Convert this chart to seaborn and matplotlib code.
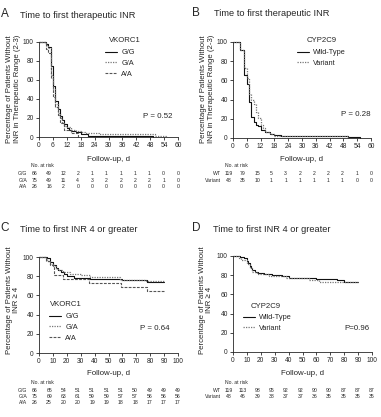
import matplotlib
matplotlib.use("Agg")
import matplotlib.pyplot as plt
import matplotlib.transforms as mtransforms
import seaborn as sns
import pandas as pd

# ---------------- data ----------------
# Panel A: time to first therapeutic INR by VKORC1
a_t_gg = [0, 3, 4, 5, 6, 7, 8, 9, 10, 11, 12, 13, 14, 16, 18, 21, 49]
a_s_gg = [100, 97, 94, 74, 53, 38, 29, 22, 18, 14, 9, 7, 6, 5, 3, 1.5, 0]
a_t_ga = [0, 3, 4, 5, 6, 7, 8, 9, 10, 11, 12, 14, 16, 18, 20, 26, 50, 55]
a_s_ga = [100, 96, 93, 65, 50, 35, 25, 20, 15, 12, 10, 7, 6, 5.3, 4, 2.7, 1.3, 0]
a_t_aa = [0, 3, 4, 5, 6, 7, 8, 9, 11, 14, 17]
a_s_aa = [100, 92, 88, 62, 42, 31, 23, 15, 7.7, 3.8, 0]
a_risk = {"G/G": [66, 49, 12, 2, 1, 1, 1, 1, 1, 0, 0],
          "G/A": [75, 49, 11, 4, 3, 2, 2, 2, 2, 1, 0],
          "A/A": [26, 16, 2, 0, 0, 0, 0, 0, 0, 0, 0]}

# Panel B: time to first therapeutic INR by CYP2C9
b_t_wt = [0, 3, 5, 6, 7, 8, 9, 10, 11, 12, 14, 16, 18, 21, 26, 50, 55]
b_s_wt = [100, 92, 66, 56, 38, 22, 17, 14, 12.6, 8, 6, 4.2, 3.4, 2.5, 1.7, 0.8, 0]
b_t_var = [0, 3, 5, 6, 7, 8, 9, 10, 11, 12, 13, 14, 16, 18, 50]
b_s_var = [100, 92, 73, 62, 46, 40, 35, 27, 21, 14, 10, 6, 4, 2, 0]
b_risk = {"WT": [119, 79, 15, 5, 3, 2, 2, 2, 2, 1, 0],
          "Variant": [48, 35, 10, 1, 1, 1, 1, 1, 1, 0, 0]}

# Panel C: time to first INR >= 4 by VKORC1
c_t_gg = [0, 6, 8, 10, 12, 14, 16, 18, 20, 25, 37, 60, 78, 90]
c_s_gg = [100, 98.5, 95, 92, 89, 86, 84, 82, 80, 78, 77, 76, 74, 74]
c_t_ga = [0, 4, 6, 8, 10, 12, 14, 17, 22, 30, 37, 58, 77, 90]
c_s_ga = [100, 99, 96, 93, 91, 88, 86, 84, 82, 81, 79, 76, 75, 75]
c_t_aa = [0, 5, 8, 11, 17, 36, 59, 78, 90]
c_s_aa = [100, 96, 92, 81, 77, 73, 69, 65, 65]
c_risk = {"G/G": [66, 65, 54, 51, 51, 51, 51, 50, 49, 49, 49],
          "G/A": [75, 69, 63, 61, 59, 59, 57, 57, 56, 56, 56],
          "A/A": [26, 25, 20, 20, 19, 19, 18, 18, 17, 17, 17]}

# Panel D: time to first INR >= 4 by CYP2C9
d_t_wt = [0, 5, 8, 10, 11, 12, 13, 14, 16, 18, 22, 28, 35, 40, 60, 75, 80, 90]
d_s_wt = [100, 99, 98, 95, 93, 90, 87, 85, 83, 82, 81, 80, 79, 77, 76, 75, 73, 73]
d_t_var = [0, 4, 6, 10, 12, 14, 17, 26, 38, 55, 62, 90]
d_s_var = [100, 98, 96, 92, 87, 83, 81, 79, 77, 75, 73, 73]
d_risk = {"WT": [119, 113, 98, 95, 92, 92, 90, 90, 87, 87, 87],
          "Variant": [48, 46, 39, 38, 37, 37, 36, 35, 35, 35, 35]}

# ---------------- style ----------------
sns.set_style("ticks")
plt.rcParams["font.family"] = ["Liberation Sans", "DejaVu Sans"]
plt.rcParams["axes.linewidth"] = 0.6
plt.rcParams["xtick.major.width"] = 0.6
plt.rcParams["ytick.major.width"] = 0.6
plt.rcParams["xtick.major.size"] = 2.2
plt.rcParams["ytick.major.size"] = 2.2
plt.rcParams["xtick.major.pad"] = 1.5
plt.rcParams["ytick.major.pad"] = 1.5

W, H = 381, 417
fig = plt.figure(figsize=(W / 100, H / 100), dpi=100)


def ax_at(x0, y0, x1, y1):
    return fig.add_axes([x0 / W, 1 - y1 / H, (x1 - x0) / W, (y1 - y0) / H])


def ftext(px, py, s, **kw):
    fig.text(px / W, 1 - py / H, s, **kw)


STY = {
    "solid": dict(color="#111111", linestyle="-", linewidth=0.8),
    "dotted": dict(color="#777777", linestyle=(0, (1, 1)), linewidth=0.9),
    "dashed": dict(color="#555555", linestyle=(0, (2.5, 1.2)), linewidth=0.8),
}


def draw(ax, curves, xmax, xstep):
    for t, s, lab, sty in curves:
        df = pd.DataFrame({"t": t, "s": s})
        sns.lineplot(data=df, x="t", y="s", ax=ax, drawstyle="steps-post",
                     estimator=None, label=lab, clip_on=False, **STY[sty])
    ax.set_xlim(0, xmax)
    ax.set_ylim(0, 100)
    ax.set_xticks(range(0, xmax + 1, xstep))
    ax.set_yticks(range(0, 101, 20))
    ax.tick_params(labelsize=4.8)
    sns.despine(ax=ax)
    ax.set_xlabel("")
    ax.set_ylabel("")


def table(ax, risk, y_head, y_rows):
    tr = mtransforms.blended_transform_factory(ax.transAxes, fig.transFigure)
    ax.text(-0.055, 1 - y_head / H, "No. at risk", transform=tr, fontsize=3.6,
            ha="left", va="center")
    n = len(next(iter(risk.values())))
    xs = [-0.03 + i * 1.03 / (n - 1) for i in range(n)]
    for (lab, vals), yr in zip(risk.items(), y_rows):
        ax.text(-0.085, 1 - yr / H, lab, transform=tr, fontsize=3.7,
                ha="right", va="center")
        for x, v in zip(xs, vals):
            ax.text(x, 1 - yr / H, str(v), transform=tr, fontsize=3.7,
                    ha="center", va="center")


def legend(ax, title, title_px, x, y):
    ax.legend(loc="upper left", bbox_to_anchor=(x, y),
              frameon=False, fontsize=5.3,
              handlelength=1.6, handletextpad=0.6, labelspacing=0.5,
              borderaxespad=0, borderpad=0)
    ftext(title_px[0], title_px[1], title, fontsize=5.6, ha="left", va="center")


# ---------- Panel A ----------
axA = ax_at(39, 41.5, 178, 137)
draw(axA, [(a_t_gg, a_s_gg, "G/G", "solid"),
           (a_t_ga, a_s_ga, "G/A", "dotted"),
           (a_t_aa, a_s_aa, "A/A", "dashed")], 60, 6)
legend(axA, "VKORC1", (109, 41), 0.475, 0.921)
axA.text(45, 21, "P = 0.52", fontsize=5.7, ha="left", va="center")
table(axA, a_risk, 165.5, [173.5, 180, 186.5])

# ---------- Panel B ----------
axB = ax_at(233, 42, 371, 138)
draw(axB, [(b_t_wt, b_s_wt, "Wild-Type", "solid"),
           (b_t_var, b_s_var, "Variant", "dotted")], 60, 6)
legend(axB, "CYP2C9", (307, 41), 0.464, 0.927)
axB.text(47, 24, "P = 0.28", fontsize=5.7, ha="left", va="center")
table(axB, b_risk, 165.5, [173.5, 180])

# ---------- Panel C ----------
axC = ax_at(39, 257, 178, 353)
draw(axC, [(c_t_gg, c_s_gg, "G/G", "solid"),
           (c_t_ga, c_s_ga, "G/A", "dotted"),
           (c_t_aa, c_s_aa, "A/A", "dashed")], 100, 10)
legend(axC, "VKORC1", (50, 305), 0.072, 0.417)
axC.text(72.5, 25.5, "P = 0.64", fontsize=5.7, ha="left", va="center")
table(axC, c_risk, 383, [390, 396.5, 403])

# ---------- Panel D ----------
axD = ax_at(233, 256, 372, 352)
draw(axD, [(d_t_wt, d_s_wt, "Wild-Type", "solid"),
           (d_t_var, d_s_var, "Variant", "dotted")], 100, 10)
legend(axD, "CYP2C9", (251, 306), 0.072, 0.396)
axD.text(80, 24, "P=0.96", fontsize=5.7, ha="left", va="center")
table(axD, d_risk, 383, [390, 396.5])

# ---------- titles, letters, axis labels ----------
for lx, tx, py, letter, title in [
        (0.5, 20, 15, "A", "Time to first therapeutic INR"),
        (192, 214, 14, "B", "Time to first therapeutic INR"),
        (0.5, 20, 229, "C", "Time to first INR 4 or greater"),
        (192, 213, 229, "D", "Time to first INR 4 or greater")]:
    ftext(lx, py - 1, letter, fontsize=8.5, ha="left", va="center")
    ftext(tx, py, title, fontsize=6.7, ha="left", va="center")

for ax in (axA, axB, axC, axD):
    bb = ax.get_position()
    cx = (bb.x0 + bb.x1) / 2 * W
    py = 159.5 if ax in (axA, axB) else 373.5
    ftext(cx, py, "Follow-up, d", fontsize=5.7, ha="center", va="center")

ylab1 = "Percentage of Patients Without\nINR in Therapeutic Range (2-3)"
ylab2 = "Percentage of Patients Without\nINR \u2265 4"
for px, py, lab in [(13.5, 89, ylab1), (207.5, 89, ylab1),
                    (13, 300, ylab2), (206, 300, ylab2)]:
    ftext(px, py, lab, fontsize=5.6, rotation=90, ha="center", va="center",
          multialignment="center", linespacing=1.05)

fig.savefig("out.png", dpi=100)
